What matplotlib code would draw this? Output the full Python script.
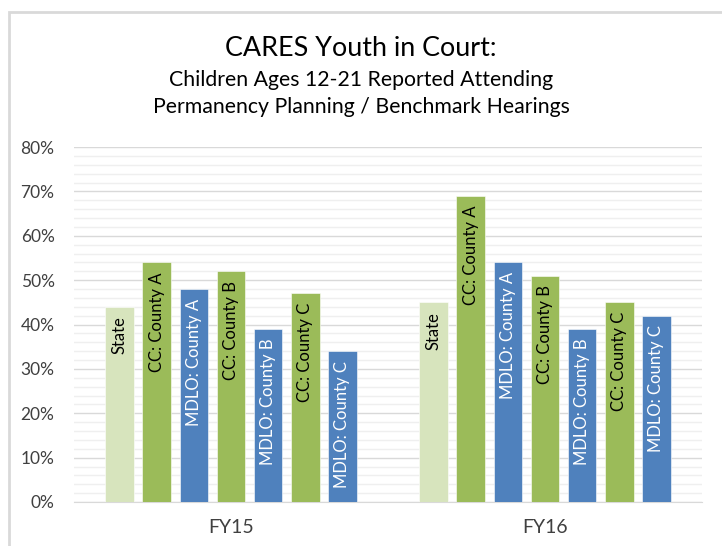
import matplotlib
matplotlib.use("Agg")
import matplotlib.pyplot as plt
from matplotlib.ticker import MultipleLocator, PercentFormatter
from matplotlib.patches import Rectangle

plt.rcParams['font.family'] = ['Lato', 'DejaVu Sans']

# data
years = ['FY15', 'FY16']
series = ['State', 'CC: County A', 'MDLO: County A', 'CC: County B',
          'MDLO: County B', 'CC: County C', 'MDLO: County C']
values_fy15 = [44, 54, 48, 52, 39, 47, 34]
values_fy16 = [45, 69, 54, 51, 39, 45, 42]

colors = ['#D7E4BD', '#9BBB59', '#4F81BD', '#9BBB59', '#4F81BD', '#9BBB59', '#4F81BD']
text_colors = ['black', 'black', 'white', 'black', 'white', 'black', 'white']

fig = plt.figure(figsize=(7.22, 5.46), dpi=100)
ax = fig.add_axes([0.1025, 0.0806, 0.8698, 0.650])

# chart border (light gray frame)
fig.patches.append(Rectangle((9 / 722, -0.1), 1.2, (546 - 12) / 546 + 0.1,
                             transform=fig.transFigure, fill=False,
                             edgecolor='#D9D9D9', linewidth=2))

pitch = 0.118
width = 0.092
for gi, vals in enumerate([values_fy15, values_fy16]):
    for i, v in enumerate(vals):
        x = gi + (i - 3) * pitch
        ax.bar(x, v, width=width, color=colors[i], edgecolor='white',
               linewidth=0.4, zorder=3)
        ax.annotate(series[i], (x, v), xytext=(0, -7), textcoords='offset points',
                    rotation=90, ha='center', va='top', fontsize=12,
                    color=text_colors[i], zorder=4)

ax.set_xlim(-0.5, 1.5)
ax.set_ylim(0, 80)
ax.yaxis.set_major_locator(MultipleLocator(10))
ax.yaxis.set_minor_locator(MultipleLocator(2))
ax.yaxis.set_major_formatter(PercentFormatter(decimals=0))
ax.grid(axis='y', which='major', color='#D9D9D9', linewidth=1, zorder=0)
ax.grid(axis='y', which='minor', color='#EFEFEF', linewidth=1, zorder=0)
ax.set_xticks([0, 1])
ax.set_xticklabels(years)
for s in ['top', 'right', 'left']:
    ax.spines[s].set_visible(False)
ax.spines['bottom'].set_color('#D9D9D9')
ax.tick_params(axis='both', which='both', length=0, colors='#404040')
ax.tick_params(axis='y', pad=14, labelsize=12.5)
ax.tick_params(axis='x', pad=12, labelsize=14)

fig.text(0.5, 1 - 48 / 546, 'CARES Youth in Court:', ha='center', va='center',
         fontsize=19.4, color='black')
fig.text(0.5, 1 - 80 / 546, 'Children Ages 12-21 Reported Attending', ha='center',
         va='center', fontsize=15.3, color='black')
fig.text(0.5, 1 - 107 / 546, 'Permanency Planning / Benchmark Hearings', ha='center',
         va='center', fontsize=15.3, color='black')

fig.savefig('out.png', dpi=100)
